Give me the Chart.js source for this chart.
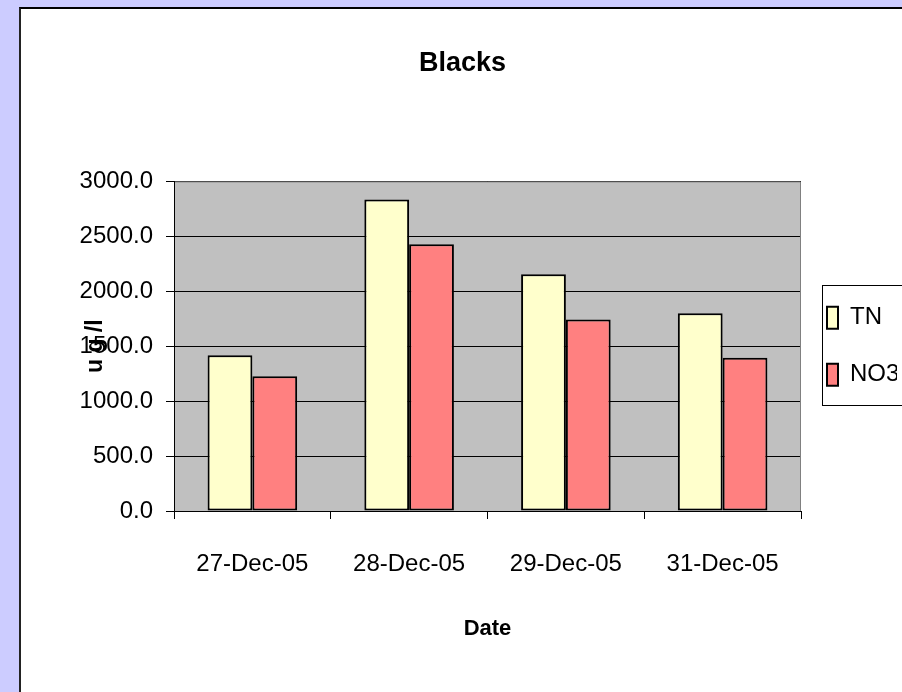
<!DOCTYPE html>
<html>
<head>
<meta charset="utf-8">
<script src="https://cdn.jsdelivr.net/npm/chart.js@4"></script>
<style>
  html, body { margin: 0; padding: 0; background: #ccccff; overflow: hidden; width: 902px; height: 692px; }
  #panel { position: absolute; left: 19px; top: 7px; border-left: 2px solid #222; border-top: 2px solid #000; background: #fff; }
  canvas { display: block; }
</style>
</head>
<body>
<div id="panel"><canvas id="chart" width="883" height="685"></canvas></div>
<script>
const dates = ['27-Dec-05', '28-Dec-05', '29-Dec-05', '31-Dec-05'];
const tnValues = [1418, 2836, 2155, 1800];
const no3Values = [1227, 2427, 1743, 1394];
const yTicks = [0, 500, 1000, 1500, 2000, 2500, 3000];

Chart.defaults.font.family = "'Liberation Sans', Arial, sans-serif";
Chart.defaults.color = '#000';

// grey plot area with its border, like the spreadsheet original
const plotArea = {
  id: 'plotArea',
  beforeDraw(chart) {
    const { ctx, chartArea: a } = chart;
    ctx.save();
    ctx.fillStyle = '#c0c0c0';
    ctx.fillRect(a.left, a.top, a.right - a.left, a.bottom - a.top);
    ctx.restore();
  },
  beforeDatasetsDraw(chart) {
    const { ctx, chartArea: a } = chart;
    ctx.save();
    ctx.strokeStyle = '#808080';
    ctx.lineWidth = 1;
    ctx.beginPath();
    ctx.moveTo(a.left + 1, a.top + 0.5);
    ctx.lineTo(a.right - 0.5, a.top + 0.5);
    ctx.lineTo(a.right - 0.5, a.bottom);
    ctx.stroke();
    ctx.restore();
  }
};

// nudge legend entries left a bit and put a box round them
const legendBox = {
  id: 'legendBox',
  afterLayout(chart) {
    chart.legend.left -= 7;
    chart.legend.right -= 7;
  },
  afterDraw(chart) {
    const boxes = chart.legend.legendHitBoxes;
    if (!boxes || !boxes.length) return;
    const first = boxes[0], last = boxes[boxes.length - 1];
    const { ctx } = chart;
    ctx.save();
    ctx.strokeStyle = '#000';
    ctx.lineWidth = 1;
    const x = Math.round(chart.chartArea.right) + 21.5;
    const y = Math.round(first.top) - 20.5;
    const b = Math.round(last.top + last.height) + 18.5;
    ctx.strokeRect(x, y, chart.width + 10 - x, b - y);
    ctx.restore();
  }
};

new Chart(document.getElementById('chart'), {
  type: 'bar',
  data: {
    labels: dates,
    datasets: [
      {
        label: 'TN',
        data: tnValues,
        backgroundColor: '#ffffcc',
        borderColor: '#000',
        borderWidth: 2,
        borderSkipped: false
      },
      {
        label: 'NO3',
        data: no3Values,
        backgroundColor: '#ff8080',
        borderColor: '#000',
        borderWidth: 2,
        borderSkipped: false
      }
    ]
  },
  options: {
    responsive: false,
    animation: false,
    layout: { padding: 0 },
    datasets: { bar: { categoryPercentage: 2 / 3.5, barPercentage: 1 } },
    plugins: {
      title: {
        display: true,
        text: 'Blacks',
        font: { size: 27, weight: 'bold' },
        padding: { top: 38, bottom: 102 }
      },
      legend: {
        position: 'right',
        fullSize: false,
        maxWidth: 103,
        labels: {
          font: { size: 24 },
          boxWidth: 11,
          boxHeight: 22,
          padding: 33
        }
      },
      tooltip: { enabled: false }
    },
    scales: {
      x: {
        afterFit(scale) { scale.height = 183; },
        grid: { drawOnChartArea: false, color: '#000', tickLength: 8 },
        border: { color: '#000', width: 1 },
        ticks: { font: { size: 24 }, padding: 31, maxRotation: 0 },
        title: {
          display: true,
          text: 'Date',
          font: { size: 22, weight: 'bold' },
          padding: { top: 0, bottom: 52 }
        }
      },
      y: {
        min: 0,
        max: 3000,
        afterFit(scale) { scale.width = 153; },
        afterBuildTicks(scale) { scale.ticks = yTicks.map(v => ({ value: v })); },
        grid: { color: '#000', tickLength: 8 },
        border: { color: '#000', width: 1 },
        ticks: {
          font: { size: 24 },
          padding: 13,
          callback: v => Number(v).toFixed(1)
        },
        title: {
          display: true,
          text: 'u g /l',
          font: { size: 23, weight: 'bold' },
          padding: { top: 61, bottom: 0 }
        }
      }
    }
  },
  plugins: [plotArea, legendBox]
});
</script>
</body>
</html>
